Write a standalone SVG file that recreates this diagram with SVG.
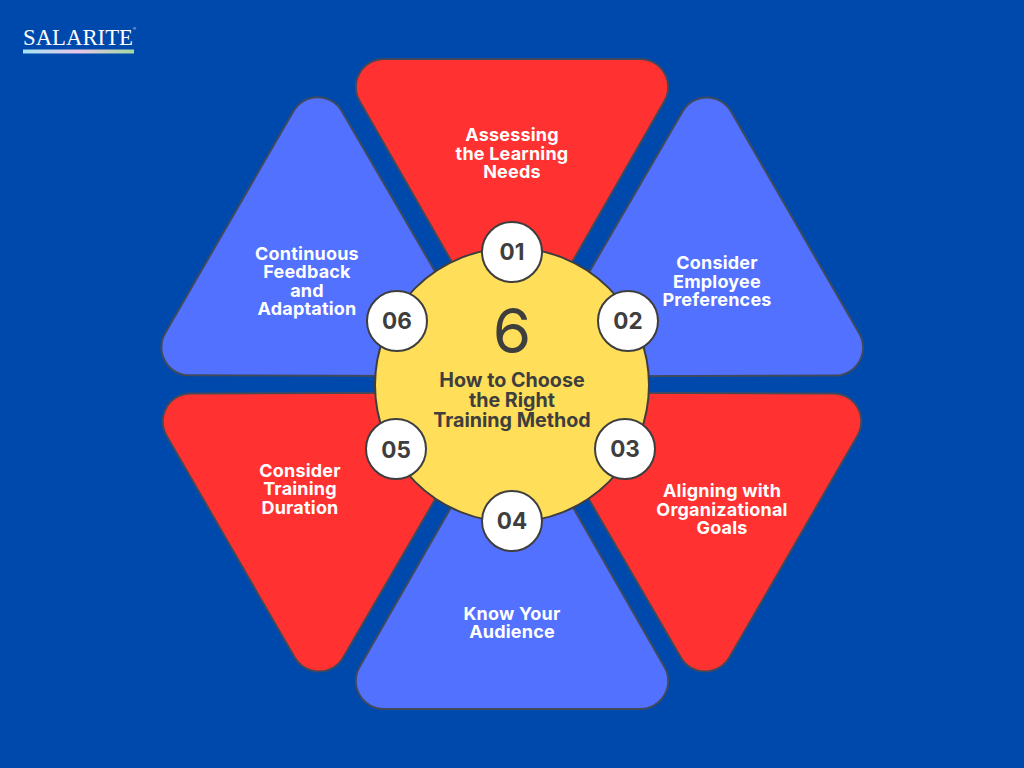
<svg xmlns="http://www.w3.org/2000/svg" width="1024" height="768" viewBox="0 0 1024 768">
<style>
.tri{stroke:#3f4a5c;stroke-width:2}
.red{fill:#ff3131}
.blue{fill:#5271ff}
.lab{font-family:"Inter","Liberation Sans",sans-serif;font-weight:700;font-size:18px;letter-spacing:.2px;fill:#fff;text-anchor:middle}
.title{font-family:"Inter","Liberation Sans",sans-serif;font-weight:700;font-size:19.700px;fill:#3e3e3e;text-anchor:middle}
.badge{fill:#fff;stroke:#3e3e3e;stroke-width:2}
.num{font-family:"Inter","Liberation Sans",sans-serif;font-weight:700;font-size:22.500px;fill:#3e3e3e;text-anchor:middle}
</style>
<defs>
<path id="t" d="M384 59H640A28 28 0 0 1 664.500 101L512 367L359.500 101A28 28 0 0 1 384 59Z"/>
<linearGradient id="g" x1="0" x2="1" y1="0" y2="0">
<stop offset="0" stop-color="#a5e3f5"/><stop offset=".5" stop-color="#e8c6e6"/><stop offset="1" stop-color="#a3d9a0"/>
</linearGradient>
</defs>
<rect width="1024" height="768" fill="#0049ac"/>
<g id="logo">
<text x="23" y="45" font-family="Liberation Serif,serif" font-size="23" fill="#fff" textLength="110" lengthAdjust="spacingAndGlyphs">SALARITE</text>
<text x="133" y="30" font-family="Liberation Sans,sans-serif" font-size="4" fill="#fff">®</text>
<rect x="23" y="49.500" width="111" height="4" fill="url(#g)"/>
</g>
<g id="node-01"><use href="#t" class="tri red"/><text class="lab"><tspan x="512" y="141">Assessing</tspan><tspan x="512" y="159.500">the Learning</tspan><tspan x="512" y="177.500">Needs</tspan></text></g>
<g id="node-02"><use href="#t" class="tri blue" transform="rotate(60 512 386)"/><text class="lab"><tspan x="717" y="268.500">Consider</tspan><tspan x="717" y="287.500">Employee</tspan><tspan x="717" y="305.500">Preferences</tspan></text></g>
<g id="node-03"><use href="#t" class="tri red" transform="rotate(120 512 384)"/><text class="lab"><tspan x="722" y="497">Aligning with</tspan><tspan x="722" y="515.500">Organizational</tspan><tspan x="722" y="534">Goals</tspan></text></g>
<g id="node-04"><use href="#t" class="tri blue" transform="rotate(180 512 384)"/><text class="lab"><tspan x="512" y="619.500">Know Your</tspan><tspan x="512" y="637.500">Audience</tspan></text></g>
<g id="node-05"><use href="#t" class="tri red" transform="rotate(240 512 384)"/><text class="lab"><tspan x="300" y="476.500">Consider</tspan><tspan x="300" y="495">Training</tspan><tspan x="300" y="513.500">Duration</tspan></text></g>
<g id="node-06"><use href="#t" class="tri blue" transform="rotate(300 512 385.500)"/><text class="lab"><tspan x="307" y="259.500">Continuous</tspan><tspan x="307" y="278">Feedback</tspan><tspan x="307" y="296.500">and</tspan><tspan x="307" y="315">Adaptation</tspan></text></g>
<g id="center">
<circle cx="512" cy="385" r="137" fill="#ffde59" stroke="#3e3e3e" stroke-width="2"/>
<text x="512" y="353" font-family="Inter,Liberation Sans,sans-serif" font-size="62" fill="#3e3e3e" text-anchor="middle">6</text>
<text class="title"><tspan x="512" y="387">How to Choose</tspan><tspan x="512" y="407">the Right</tspan><tspan x="512" y="427">Training Method</tspan></text>
</g>
<g id="badge-01"><circle class="badge" cx="512" cy="252" r="30"/><text class="num" x="512" y="260">01</text></g>
<g id="badge-02"><circle class="badge" cx="628" cy="321" r="30"/><text class="num" x="628" y="329">02</text></g>
<g id="badge-03"><circle class="badge" cx="625" cy="449" r="30"/><text class="num" x="625" y="457">03</text></g>
<g id="badge-04"><circle class="badge" cx="512" cy="521" r="30"/><text class="num" x="512" y="529">04</text></g>
<g id="badge-05"><circle class="badge" cx="396" cy="449" r="30"/><text class="num" x="396" y="458">05</text></g>
<g id="badge-06"><circle class="badge" cx="397" cy="321" r="30"/><text class="num" x="397" y="329">06</text></g>
</svg>
